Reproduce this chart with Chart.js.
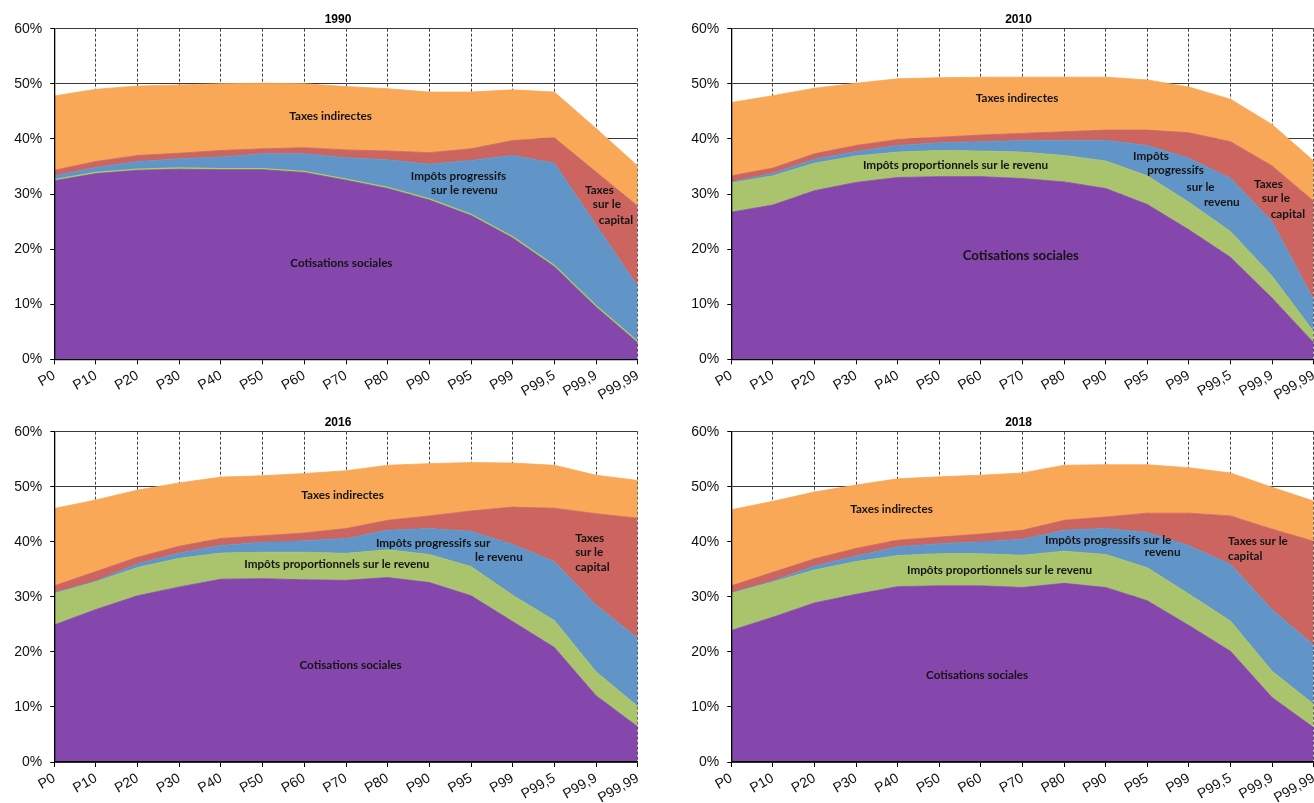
<!DOCTYPE html>
<html><head><meta charset="utf-8">
<script src="https://cdn.jsdelivr.net/npm/chart.js@4.4.1/dist/chart.umd.min.js"></script>
<style>
html,body{margin:0;padding:0;background:#fff;overflow:hidden;width:1314px;height:803px;position:relative;}
canvas{position:absolute;}
</style></head><body>
<canvas id="c1990" width="655" height="400" style="left:0;top:0"></canvas>
<canvas id="c2010" width="680" height="400" style="left:655px;top:0"></canvas>
<canvas id="c2016" width="655" height="400" style="left:0;top:403px"></canvas>
<canvas id="c2018" width="680" height="400" style="left:655px;top:403px"></canvas>
<script>
// ---- data ----
const categories = ['P0','P10','P20','P30','P40','P50','P60','P70','P80','P90','P95','P99','P99,5','P99,9','P99,99'];
const yTickValues = [0,10,20,30,40,50,60];
const seriesNames = ['Cotisations sociales','Impôts proportionnels sur le revenu','Impôts progressifs sur le revenu','Taxes sur le capital','Taxes indirectes'];

const cotisations1990 = [32.4,33.7,34.3,34.5,34.4,34.4,33.9,32.5,31.0,28.9,26.1,22.0,16.8,9.5,3.0];
const proportionnels1990 = [0.2,0.2,0.2,0.2,0.2,0.2,0.2,0.2,0.2,0.2,0.2,0.2,0.2,0.2,0.2];
const progressifs1990 = [0.7,0.9,1.4,1.7,2.1,2.7,3.2,3.9,5.0,6.3,9.8,14.8,18.6,14.7,10.0];
const capital1990 = [1.0,1.1,1.1,1.0,1.2,0.9,1.1,1.4,1.6,2.1,2.1,2.7,4.6,9.6,14.6];
const indirectes1990 = [13.5,13.1,12.6,12.4,12.1,11.9,11.6,11.5,11.3,11.0,10.3,9.2,8.3,7.9,7.3];

const cotisations2010 = [26.7,28.0,30.6,32.1,33.0,33.15,33.15,32.8,32.2,31.0,28.1,23.5,18.5,11.1,3.0];
const proportionnels2010 = [5.3,5.3,5.0,4.8,4.6,4.75,4.65,4.8,4.8,5.0,5.2,5.0,4.7,4.0,2.0];
const progressifs2010 = [0.2,0.45,0.7,0.8,1.2,1.4,1.7,2.1,2.75,3.75,5.5,8.0,9.65,9.9,5.8];
const capital2010 = [1.1,0.95,1.0,1.1,1.1,1.0,1.2,1.3,1.55,1.85,2.8,4.6,6.65,10.1,17.9];
const indirectes2010 = [13.3,13.15,11.9,11.3,11.0,10.8,10.5,10.2,9.9,9.6,9.1,8.3,7.7,7.5,7.3];

const cotisations2016 = [24.9,27.7,30.2,31.8,33.2,33.3,33.1,33.0,33.5,32.6,30.2,25.5,20.8,12.05,6.4];
const proportionnels2016 = [5.7,5.05,5.15,5.2,4.75,4.8,5.0,4.9,5.05,5.1,5.3,4.8,4.9,4.35,3.7];
const progressifs2016 = [0.15,0.15,0.65,0.95,1.4,1.8,2.1,2.7,3.55,4.7,6.4,9.2,10.7,12.1,12.4];
const capital2016 = [1.25,1.7,1.2,1.25,1.25,1.2,1.4,1.8,1.8,2.3,3.7,6.8,9.7,16.6,21.8];
const indirectes2016 = [14.05,13.0,12.2,11.5,11.15,10.9,10.8,10.5,10.0,9.5,8.8,8.0,7.8,7.0,6.85];

const cotisations2018 = [23.9,26.3,28.9,30.45,31.85,32.0,32.0,31.7,32.45,31.7,29.3,24.8,20.1,11.7,6.25];
const proportionnels2018 = [6.75,6.4,6.0,5.95,5.65,5.85,5.85,5.85,5.85,6.0,6.0,5.7,5.5,4.8,4.25];
const progressifs2018 = [0.1,0.2,0.7,1.0,1.6,1.8,2.15,2.9,3.8,4.7,6.4,8.8,10.3,11.2,10.7];
const capital2018 = [1.25,1.55,1.3,1.4,1.2,1.2,1.4,1.65,1.8,2.1,3.5,5.9,8.8,14.6,18.9];
const indirectes2018 = [13.8,12.9,12.15,11.5,11.15,10.95,10.7,10.4,10.0,9.5,8.8,8.25,7.8,7.6,7.3];

// ---- styles ----
const colors = ['#8547ac','#a9c46c','#6195c8','#cc6560','#f9a857'];

const notes1990 = [
  {t:'Taxes indirectes',x:6.63,y:44.2},
  {t:'Impôts progressifs',x:9.70,y:33.3},
  {t:'sur le revenu',x:9.84,y:30.7},
  {t:'Taxes',x:13.08,y:30.7},
  {t:'sur le',x:13.26,y:28.2},
  {t:'capital',x:13.48,y:25.3},
  {t:'Cotisations sociales',x:6.89,y:17.4}
];
const notes2010 = [
  {t:'Taxes indirectes',x:6.87,y:47.4},
  {t:'Impôts proportionnels sur le revenu',x:5.39,y:35.3},
  {t:'Impôts',x:10.09,y:36.9},
  {t:'progressifs',x:10.68,y:34.3},
  {t:'sur le',x:11.28,y:31.2},
  {t:'revenu',x:11.79,y:28.55},
  {t:'Taxes',x:12.91,y:31.8},
  {t:'sur le',x:13.09,y:29.2},
  {t:'capital',x:13.38,y:26.4},
  {t:'Cotisations sociales',x:6.96,y:18.8,big:true}
];
const notes2016 = [
  {t:'Taxes indirectes',x:6.92,y:48.5},
  {t:'Impôts progressifs sur',x:9.09,y:39.8},
  {t:'le revenu',x:10.67,y:37.2},
  {t:'Taxes',x:12.5,y:40.6,align:'left'},
  {t:'sur le',x:12.5,y:38.1,align:'left'},
  {t:'capital',x:12.5,y:35.4,align:'left'},
  {t:'Impôts proportionnels sur le revenu',x:6.78,y:35.9},
  {t:'Cotisations sociales',x:7.11,y:17.6}
];
const notes2018 = [
  {t:'Taxes indirectes',x:3.85,y:45.9},
  {t:'Impôts progressifs sur le',x:9.06,y:40.2},
  {t:'revenu',x:10.37,y:38.1},
  {t:'Taxes sur le',x:11.94,y:40.05,align:'left'},
  {t:'capital',x:11.94,y:37.3,align:'left'},
  {t:'Impôts proportionnels sur le revenu',x:6.45,y:34.8},
  {t:'Cotisations sociales',x:5.91,y:15.8}
];

const panelText = {
  id:'panelText',
  afterDatasetsDraw(chart, args, opts){
    const ctx = chart.ctx, xs = chart.scales.x, ys = chart.scales.y, a = chart.chartArea;
    ctx.save();
    ctx.fillStyle = '#000';
    ctx.font = 'bold 12px "Liberation Sans", Arial, sans-serif';
    ctx.textAlign = 'center';
    ctx.textBaseline = 'alphabetic';
    ctx.fillText(opts.title, (a.left + a.right)/2 + opts.titleDx, a.top - 6);
    ctx.fillStyle = '#141414';
    ctx.textBaseline = 'middle';
    for (const n of opts.notes){
      ctx.font = 'bold ' + (n.big ? 13.3 : 11.7) + 'px Lato, "Open Sans", sans-serif';
      ctx.textAlign = n.align || 'center';
      ctx.fillText(n.t, xs.getPixelForValue(n.x), ys.getPixelForValue(n.y));
    }
    ctx.restore();
  }
};

function makeChart(id, title, series, notes, geom){
  const datasets = series.map((d,i)=>({
    label: seriesNames[i],
    data: d,
    backgroundColor: colors[i],
    borderColor: (geom.thinGreen && i===1) ? '#a9d05a' : colors[i],
    borderWidth: (geom.thinGreen && i===1) ? 1.5 : 0.8,
    pointRadius: 0,
    tension: 0,
    fill: i===0 ? 'origin' : '-1'
  }));
  return new Chart(document.getElementById(id), {
    type:'line',
    data:{labels: categories, datasets},
    plugins:[panelText],
    options:{
      responsive:false,
      animation:false,
      events:[],
      layout:{padding:{left:0, top:geom.padTop, right:geom.padRight, bottom:0}},
      plugins:{
        legend:{display:false},
        tooltip:{enabled:false},
        panelText:{title, titleDx:geom.titleDx, notes}
      },
      scales:{
        x:{
          offset:false,
          grid:{color:'#444', lineWidth:1, drawTicks:true, tickLength:5, tickColor:'#000', tickBorderDash:[], z:-1},
          border:{display:true, color:'#000', width:1.3, dash:[3,2], z:1},
          ticks:{autoSkip:false, maxRotation:30, minRotation:30, padding:3, color:'#111',
                 font:{family:'"Liberation Sans", Arial, sans-serif', size:14}},
          afterFit(s){ s.height = geom.xHeight; }
        },
        y:{
          stacked:true,
          min:0, max:60,
          afterBuildTicks(s){ s.ticks = yTickValues.map(v=>({value:v})); },
          grid:{color:'#3a3a3a', lineWidth:1, drawTicks:true, tickLength:4, tickColor:'#000', z:-1},
          border:{display:true, color:'#000', width:1.3, z:1},
          ticks:{padding:8, color:'#111', callback:v=>v+'%',
                 font:{family:'"Liberation Sans", Arial, sans-serif', size:14}},
          afterFit(s){ s.width = geom.yWidth; }
        }
      }
    }
  });
}

const geomLeft = {padTop:28.7, padRight:17.3, yWidth:54.3, xHeight:40.7, titleDx:-8};
const geomRight = {padTop:28.7, padRight:21.3, yWidth:76.3, xHeight:40.7, titleDx:-4};

makeChart('c1990','1990',[cotisations1990,proportionnels1990,progressifs1990,capital1990,indirectes1990],notes1990,Object.assign({thinGreen:true},geomLeft));
makeChart('c2010','2010',[cotisations2010,proportionnels2010,progressifs2010,capital2010,indirectes2010],notes2010,geomRight);
makeChart('c2016','2016',[cotisations2016,proportionnels2016,progressifs2016,capital2016,indirectes2016],notes2016,Object.assign({},geomLeft,{xHeight:41}));
makeChart('c2018','2018',[cotisations2018,proportionnels2018,progressifs2018,capital2018,indirectes2018],notes2018,Object.assign({},geomRight,{xHeight:41}));
</script>
</body></html>
